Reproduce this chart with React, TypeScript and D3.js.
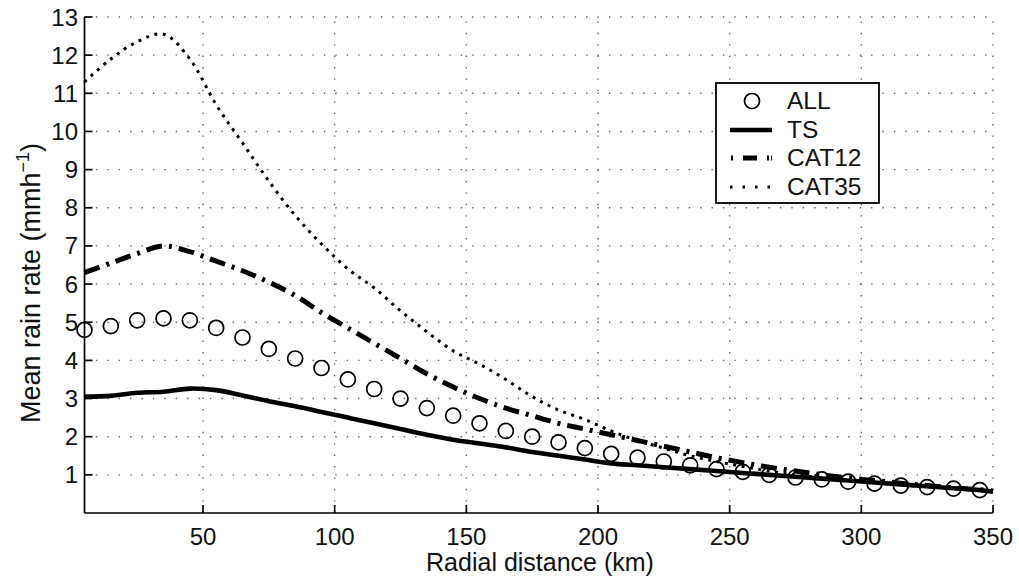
import React, { useEffect, useRef } from 'react';
import * as d3 from 'd3';

// radial distance (km) of the ALL markers, 10 km bins
const markerKm = [5, 15, 25, 35, 45, 55, 65, 75, 85, 95, 105, 115, 125, 135, 145, 155, 165, 175,
  185, 195, 205, 215, 225, 235, 245, 255, 265, 275, 285, 295, 305, 315, 325, 335, 345];

const allRate = [4.8, 4.9, 5.05, 5.1, 5.05, 4.85, 4.6, 4.3, 4.05, 3.8, 3.5, 3.25, 3.0, 2.75, 2.55,
  2.35, 2.15, 2.0, 1.85, 1.7, 1.55, 1.45, 1.35, 1.25, 1.15, 1.08, 1.0, 0.93, 0.88, 0.82, 0.77,
  0.72, 0.68, 0.64, 0.6];

// the curves run on to the 350 km edge
const lineKm = [5, 15, 25, 35, 45, 55, 65, 75, 85, 95, 105, 115, 125, 135, 145, 155, 165, 175,
  185, 195, 205, 215, 225, 235, 245, 255, 265, 275, 285, 295, 305, 315, 325, 335, 345, 350];

const tsRate = [3.05, 3.07, 3.15, 3.18, 3.26, 3.22, 3.08, 2.93, 2.8, 2.65, 2.5, 2.35, 2.2, 2.05,
  1.92, 1.82, 1.72, 1.6, 1.5, 1.4, 1.3, 1.25, 1.2, 1.15, 1.1, 1.05, 1.0, 0.95, 0.9, 0.85, 0.8,
  0.75, 0.7, 0.65, 0.6, 0.56];

const cat12Rate = [6.3, 6.55, 6.8, 7.0, 6.85, 6.6, 6.35, 6.05, 5.7, 5.25, 4.85, 4.45, 4.05, 3.65,
  3.3, 3.0, 2.75, 2.55, 2.35, 2.2, 2.05, 1.9, 1.75, 1.6, 1.45, 1.32, 1.2, 1.1, 1.0, 0.92, 0.85,
  0.78, 0.72, 0.66, 0.61, 0.58];

const cat35Rate = [11.3, 11.9, 12.35, 12.55, 11.9, 10.7, 9.7, 8.7, 7.8, 7.05, 6.4, 5.9, 5.3, 4.75,
  4.25, 3.9, 3.5, 3.05, 2.7, 2.45, 2.15, 1.9, 1.7, 1.5, 1.35, 1.22, 1.1, 1.0, 0.92, 0.85, 0.79,
  0.74, 0.69, 0.64, 0.6, 0.58];

const xTicks = [50, 100, 150, 200, 250, 300, 350];
const yTicks = [1, 2, 3, 4, 5, 6, 7, 8, 9, 10, 11, 12, 13];
const legendLabels = ['ALL', 'TS', 'CAT12', 'CAT35'];

const FONT = '"Liberation Sans", Arial, Helvetica, sans-serif';

export default function App() {
  const ref = useRef<SVGSVGElement>(null);

  useEffect(() => {
    const svg = d3.select(ref.current);
    svg.selectAll('*').remove();

    const x = d3.scaleLinear().domain([5, 350]).range([84.5, 993]);
    const y = d3.scaleLinear().domain([0, 13]).range([513, 17]);

    // dotted grid
    const grid = svg.append('g')
      .attr('stroke', '#666')
      .attr('stroke-width', 1.4)
      .attr('stroke-dasharray', '1.4,10');
    grid.selectAll('.gx').data(xTicks).enter().append('line')
      .attr('x1', d => x(d)).attr('x2', d => x(d))
      .attr('y1', y(0)).attr('y2', y(13));
    grid.selectAll('.gy').data(yTicks).enter().append('line')
      .attr('x1', x(5)).attr('x2', x(350))
      .attr('y1', d => y(d)).attr('y2', d => y(d));

    // series lines
    const line = d3.line<number>()
      .x((d, i) => x(lineKm[i]))
      .y(d => y(d))
      .curve(d3.curveCatmullRom);

    svg.append('path').datum(cat35Rate)
      .attr('d', line).attr('fill', 'none').attr('stroke', '#000')
      .attr('stroke-width', 3).attr('stroke-dasharray', '3,5.5');
    svg.append('path').datum(cat12Rate)
      .attr('d', line).attr('fill', 'none').attr('stroke', '#000')
      .attr('stroke-width', 5).attr('stroke-dasharray', '16,7,3,7');
    svg.append('path').datum(tsRate)
      .attr('d', line).attr('fill', 'none').attr('stroke', '#000')
      .attr('stroke-width', 4.6);

    svg.append('g').selectAll('circle').data(allRate).enter().append('circle')
      .attr('cx', (d, i) => x(markerKm[i]))
      .attr('cy', d => y(d))
      .attr('r', 7.5)
      .attr('fill', 'none').attr('stroke', '#000').attr('stroke-width', 1.7);

    // axes, ticks pointing inward
    const ax = svg.append('g').attr('stroke', '#000').attr('stroke-width', 1.7);
    ax.append('line').attr('x1', x(5)).attr('x2', x(350)).attr('y1', y(0)).attr('y2', y(0));
    ax.append('line').attr('x1', x(5)).attr('x2', x(5)).attr('y1', y(0)).attr('y2', y(13));
    ax.selectAll('.tx').data(xTicks).enter().append('line')
      .attr('x1', d => x(d)).attr('x2', d => x(d))
      .attr('y1', y(0)).attr('y2', y(0) - 8);
    ax.selectAll('.ty').data(yTicks).enter().append('line')
      .attr('x1', x(5)).attr('x2', x(5) + 8)
      .attr('y1', d => y(d)).attr('y2', d => y(d));

    const txt = svg.append('g').attr('font-family', FONT).attr('font-size', 24).attr('fill', '#111');
    txt.selectAll('.lx').data(xTicks).enter().append('text')
      .attr('x', d => x(d)).attr('y', 545).attr('text-anchor', 'middle')
      .text(d => d);
    txt.selectAll('.ly').data(yTicks).enter().append('text')
      .attr('x', 78).attr('y', d => y(d) + 8.5).attr('text-anchor', 'end')
      .text(d => d);
    txt.append('text').attr('x', 540).attr('y', 571).attr('text-anchor', 'middle')
      .attr('font-size', 25)
      .text('Radial distance (km)');
    const yl = txt.append('text')
      .attr('transform', 'translate(40,283) rotate(-90)')
      .attr('text-anchor', 'middle')
      .attr('font-size', 27);
    yl.append('tspan').text('Mean rain rate (mmh');
    yl.append('tspan').attr('font-size', 18).attr('dy', -11).text('−1');
    yl.append('tspan').attr('dy', 11).text(')');

    // legend
    const lg = svg.append('g');
    lg.append('rect').attr('x', 716).attr('y', 83).attr('width', 163).attr('height', 120)
      .attr('fill', '#fff').attr('stroke', '#000').attr('stroke-width', 1.8);
    const rows = [101, 130, 158, 187];
    lg.append('circle').attr('cx', 752).attr('cy', rows[0]).attr('r', 7.5)
      .attr('fill', 'none').attr('stroke', '#000').attr('stroke-width', 1.7);
    lg.append('line').attr('x1', 730).attr('x2', 772).attr('y1', rows[1]).attr('y2', rows[1])
      .attr('stroke', '#000').attr('stroke-width', 4.6);
    lg.append('line').attr('x1', 731).attr('x2', 772).attr('y1', rows[2]).attr('y2', rows[2])
      .attr('stroke', '#000').attr('stroke-width', 5).attr('stroke-dasharray', '2,10,14,10,2');
    lg.append('line').attr('x1', 730).attr('x2', 772).attr('y1', rows[3]).attr('y2', rows[3])
      .attr('stroke', '#000').attr('stroke-width', 3).attr('stroke-dasharray', '2.5,10');
    lg.selectAll('.lt').data(legendLabels).enter().append('text')
      .attr('x', 787).attr('y', (d, i) => rows[i] + 8)
      .attr('font-family', FONT).attr('font-size', 24.5).attr('fill', '#111')
      .text(d => d);
  }, []);

  return (
    <svg ref={ref} width={1019} height={583}
      style={{ position: 'absolute', left: 0, top: 0, background: '#fff' }} />
  );
}
